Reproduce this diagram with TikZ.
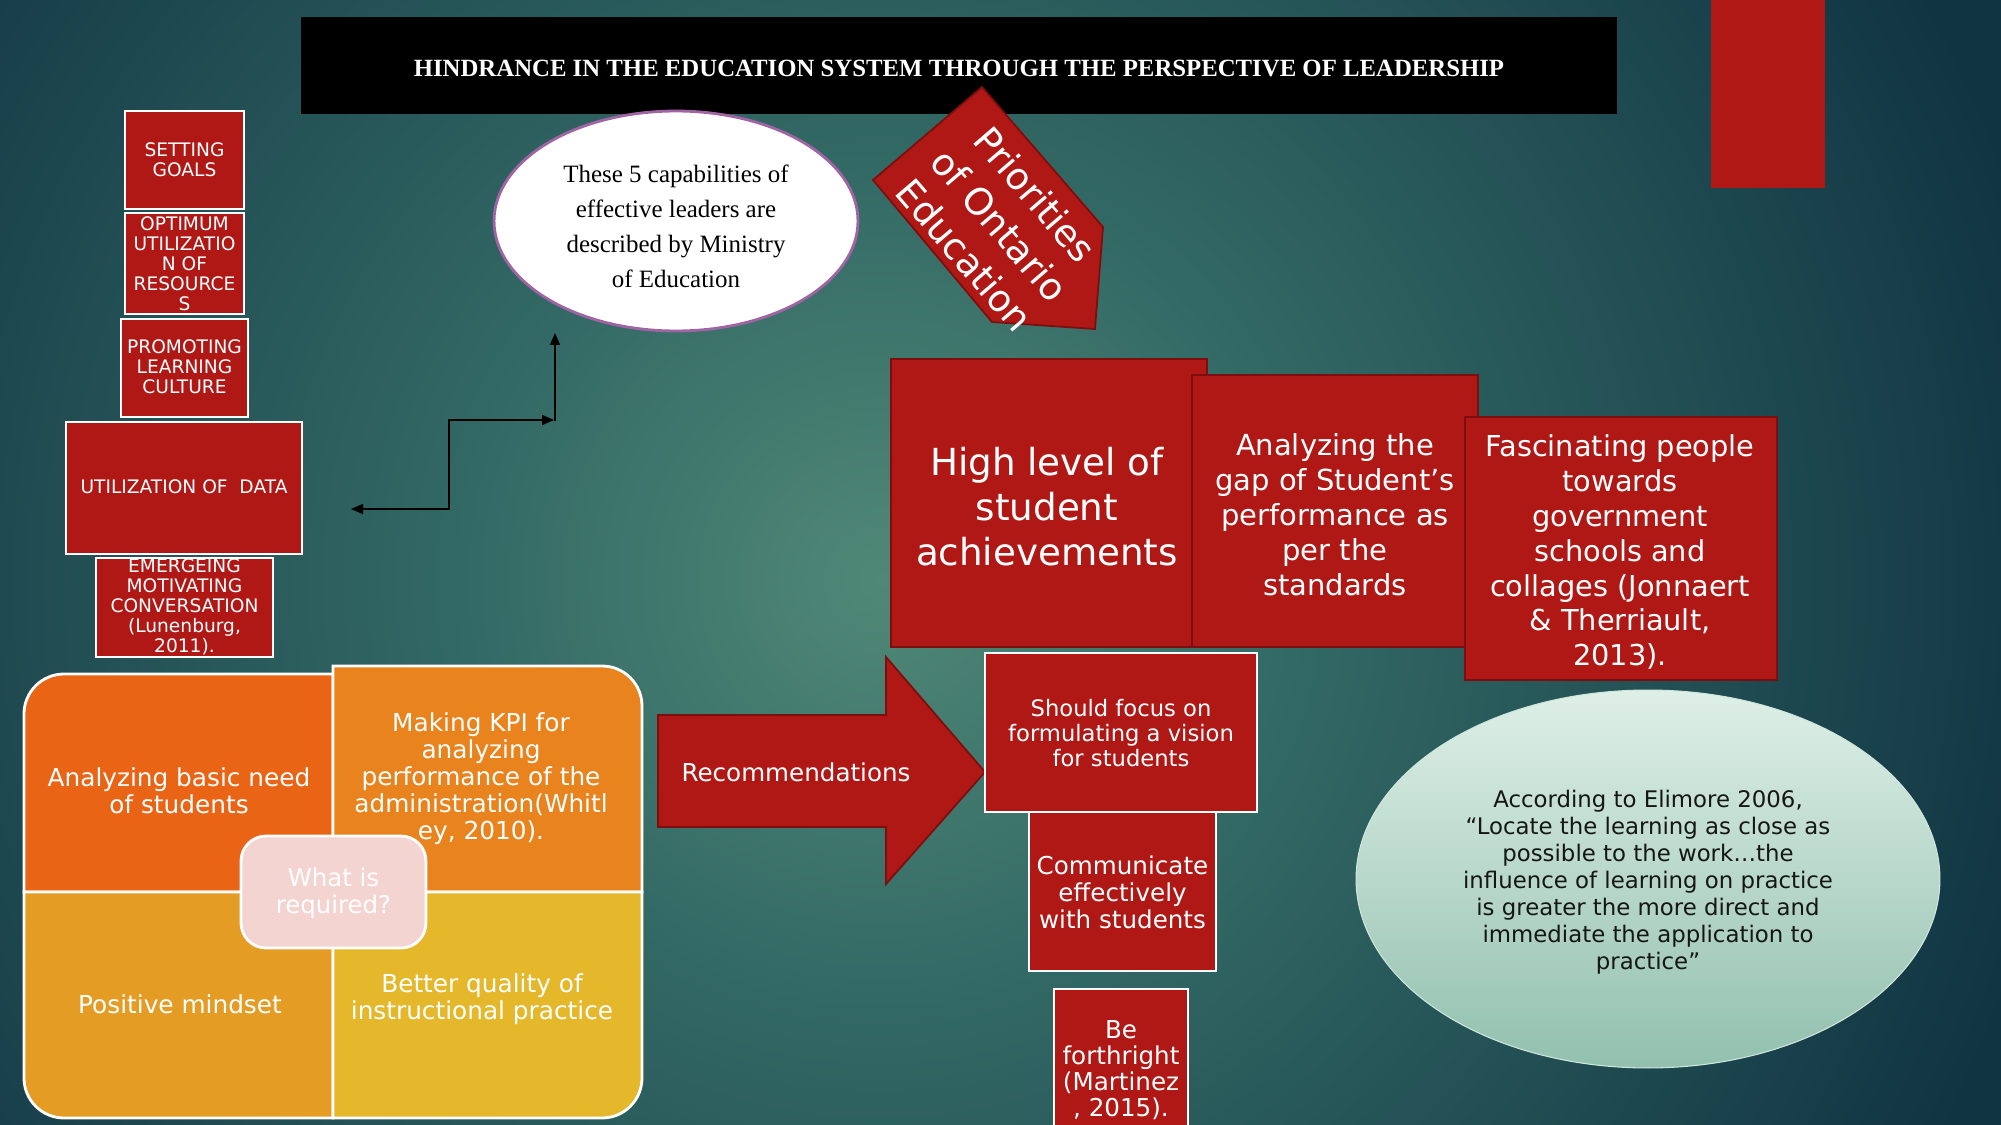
\documentclass[tikz,border=0pt]{standalone}
\usepackage{fontspec}
\setmainfont{DejaVu Sans}
\newfontfamily\tnr{Liberation Serif}
\usetikzlibrary{shapes.geometric,arrows.meta}
\definecolor{bgin}{RGB}{80,136,119}
\definecolor{bgmid}{RGB}{50,104,100}
\definecolor{bgout}{RGB}{17,52,67}
\definecolor{myred}{RGB}{176,24,22}
\definecolor{dred}{RGB}{125,14,14}
\definecolor{purp}{RGB}{160,100,165}
\definecolor{qtl}{RGB}{233,100,21}
\definecolor{qtr}{RGB}{233,131,30}
\definecolor{qbl}{RGB}{229,156,36}
\definecolor{qbr}{RGB}{228,184,42}
\definecolor{pinkbox}{RGB}{244,212,208}
\definecolor{mintA}{RGB}{222,239,231}
\definecolor{mintB}{RGB}{146,192,175}
\definecolor{qtxt}{RGB}{22,22,22}
\pgfdeclareradialshading{bgrad}{\pgfpoint{0bp}{0bp}}{color(0bp)=(bgin); color(9bp)=(bgmid); color(25bp)=(bgout); color(50bp)=(bgout)}
\newcommand\fsz[2]{\fontsize{#1}{#2}\selectfont}
\begin{document}
\begin{tikzpicture}[x=0.02cm,y=-0.02cm,
  wbox/.style={draw=white, line width=1.5pt, fill=myred, inner sep=0pt},
  dbox/.style={draw=dred, line width=1.5pt, fill=myred, inner sep=0pt},
  wt/.style={text=white, align=center, inner sep=0pt},
  lc/.style={wt, font=\fsz{10.6}{11.4}},
  qt/.style={wt, font=\fsz{14.1}{15.4}},
  conn/.style={line width=0.85pt, black},
  quad/.style={draw=white, line width=1.6pt}]
\clip (0,0) rectangle (2001,1125);
\fill[bgout] (0,0) rectangle (2001,1125);
\shade[shading=bgrad] (880,580) circle (1200);

% title
\node[fill=black, minimum width=26.32cm, minimum height=1.94cm, inner sep=0pt] (title) at (959,65.5) {};
\node[text=white, inner sep=0pt, font=\tnr\bfseries\fsz{14.1}{16}] (titlet) at (959,68) {HINDRANCE IN THE EDUCATION SYSTEM THROUGH THE PERSPECTIVE OF LEADERSHIP};

% top right red bar
\node[fill=myred, minimum width=2.28cm, minimum height=3.8cm, inner sep=0pt] (topbar) at (1768,93) {};

% left column
\node[wbox, minimum width=2.38cm, minimum height=1.96cm] (g1) at (184.5,160) {};
\node[lc] (g1t) at (g1.center) {SETTING\\GOALS};
\node[wbox, minimum width=2.38cm, minimum height=2.02cm] (g2) at (184.5,263.5) {};
\node[lc] (g2t) at (184.5,264) {OPTIMUM\\UTILIZATIO\\N OF\\RESOURCE\\S};
\node[wbox, minimum width=2.54cm, minimum height=1.96cm] (g3) at (184.5,368) {};
\node[lc] (g3t) at (184.5,367) {PROMOTING\\LEARNING\\CULTURE};
\node[wbox, minimum width=4.72cm, minimum height=2.64cm] (g4) at (184,488) {};
\node[lc] (g4t) at (184,487) {UTILIZATION OF\ \ DATA};
\node[wbox, minimum width=3.54cm, minimum height=1.98cm] (g5) at (184.5,607.5) {};
\node[lc] (g5t) at (184.5,607) {EMERGEING\\MOTIVATING\\CONVERSATION\\(Lunenburg,\\2011).};

% connectors
\coordinate (ca) at (351,509);
\coordinate (cm) at (449,465);
\coordinate (cb) at (554,420);
\coordinate (cc) at (555,421);
\coordinate (cd) at (555,333);
\draw[conn, {Triangle[length=0.24cm,width=0.2cm]}-{Triangle[length=0.24cm,width=0.2cm]}] (ca) -| (cm) |- (cb);
\draw[conn, -{Triangle[length=0.24cm,width=0.2cm]}] (cc) -- (cd);

% ellipse top
\node[ellipse, draw=purp, line width=1.6pt, fill=white, minimum width=7.28cm, minimum height=4.4cm, inner sep=0pt] (e1) at (676,221) {};
\node[align=center, inner sep=0pt, font=\tnr\fsz{14.2}{19.9}] (e1t) at (676,226) {These 5 capabilities of\\effective leaders are\\described by Ministry\\of Education};

% priorities arrow
\filldraw[fill=myred, draw=dred, line width=1pt] (982,87) -- (873,180) -- (992,322) -- (1095,329) -- (1103,227) -- cycle;
\node[wt, rotate=-49.4, font=\fsz{21.2}{26.5}] (prio) at (1000,225) {Priorities\\of Ontario\\Education};

% big red boxes
\node[dbox, minimum width=6.32cm, minimum height=5.76cm] (h1) at (1049,503) {};
\node[wt, font=\fsz{21.2}{25.6}] (h1t) at (1047,507) {High level of\\student\\achievements};
\node[dbox, minimum width=5.72cm, minimum height=5.44cm] (h2) at (1335,511) {};
\node[wt, font=\fsz{16.5}{19.9}] (h2t) at (1335,515) {Analyzing the\\gap of Student’s\\performance as\\per the\\standards};
\node[dbox, minimum width=6.24cm, minimum height=5.26cm] (h3) at (1621,548.5) {};
\node[wt, font=\fsz{16.4}{19.9}] (h3t) at (1620,552) {Fascinating people\\towards\\government\\schools and\\collages (Jonnaert\\\& Therriault,\\2013).};

% recommendations arrow
\filldraw[fill=myred, draw=dred, line width=1pt] (658,715) -- (886,715) -- (886,657) -- (985,772) -- (886,884) -- (886,827) -- (658,827) -- cycle;
\node[wt, font=\fsz{14}{16}] (rec) at (796,772) {Recommendations};

% recommendation boxes
\node[wbox, minimum width=5.44cm, minimum height=3.18cm] (r1) at (1121,732.5) {};
\node[wt, font=\fsz{12.9}{14.2}] (r1t) at (1121,733) {Should focus on\\formulating a vision\\for students};
\node[wbox, minimum width=3.74cm, minimum height=3.18cm] (r2) at (1122.5,891.5) {};
\node[wt, font=\fsz{14}{15.4}] (r2t) at (1122.5,892) {Communicate\\effectively\\with students};
\node[wbox, minimum width=2.68cm, minimum height=3.2cm] (r3) at (1121,1069) {};
\node[wt, font=\fsz{14}{14.8}] (r3t) at (1121,1070) {Be\\forthright\\(Martinez\\, 2015).};

% quote ellipse
\node[ellipse, top color=mintA, bottom color=mintB, draw=mintA!80!mintB, line width=0.6pt, minimum width=11.68cm, minimum height=7.56cm, inner sep=0pt] (e2) at (1648,879) {};
\node[align=center, text=qtxt, inner sep=0pt, font=\fsz{13}{15.4}] (e2t) at (1648,882) {According to Elimore 2006,\\“Locate the learning as close as\\possible to the work…the\\influence of learning on practice\\is greater the more direct and\\immediate the application to\\practice”};

% quadrant diagram
\filldraw[quad, fill=qtl] (333,892) -- (24,892) -- (24,714) arc(180:270:40) -- (333,674) -- cycle;
\filldraw[quad, fill=qtr] (333,892) -- (333,666) -- (602,666) arc(270:360:40) -- (642,892) -- cycle;
\filldraw[quad, fill=qbl] (333,892) -- (333,1118) -- (64,1118) arc(90:180:40) -- (24,892) -- cycle;
\filldraw[quad, fill=qbr] (333,892) -- (642,892) -- (642,1078) arc(0:90:40) -- (333,1118) -- cycle;
\node[qt] (q1) at (179,791) {Analyzing basic need\\of students};
\node[qt] (q2) at (481,779) {Making KPI for\\analyzing\\performance of the\\administration(Whitl\\ey, 2010).};
\node[qt] (q3) at (180,1004) {Positive mindset};
\node[qt] (q4) at (482,999) {Better quality of\\instructional practice};
\node[draw=white, line width=1.6pt, fill=pinkbox, rounded corners=0.5cm, minimum width=3.7cm, minimum height=2.24cm, inner sep=0pt] (wr) at (333.5,892) {};
\node[wt, font=\fsz{13.9}{15.4}] (wrt) at (333.5,893) {What is\\required?};
\end{tikzpicture}
\end{document}
